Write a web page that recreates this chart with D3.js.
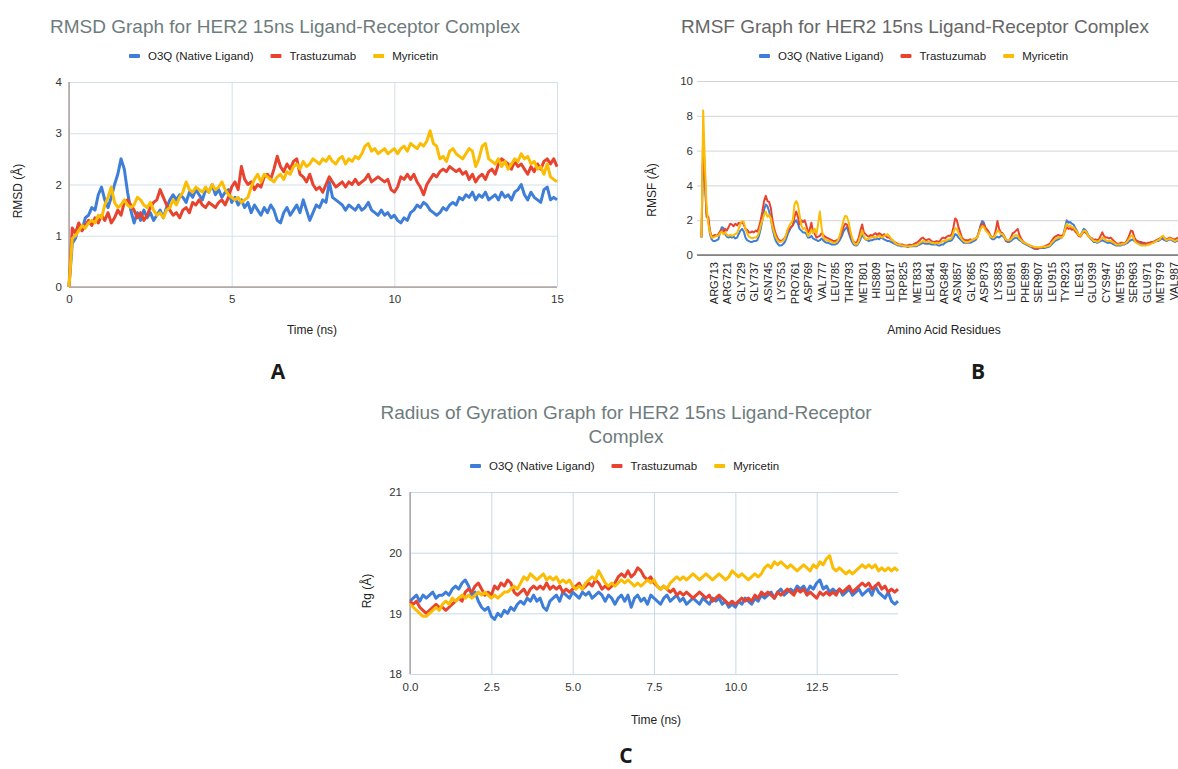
<!DOCTYPE html>
<html>
<head>
<meta charset="utf-8">
<script src="https://cdn.jsdelivr.net/npm/d3@7"></script>
<style>
  body { margin: 0; background: #fff; }
  svg { display: block; }
</style>
</head>
<body>
<script>
// ---- shared series info ----
const seriesNames = ["O3Q (Native Ligand)", "Trastuzumab", "Myricetin"];
const seriesColors = ["#3f7ed8", "#e8432f", "#fbbc04"];

// ---- A: RMSD, one value every 0.1 ns from 0 to 15 ns ----
const rmsdStep = 0.1;
const rmsdO3Q = [
  0, 0.85, 0.95, 1.2, 1.1, 1.35, 1.4, 1.55, 1.5, 1.8,
  1.95, 1.7, 1.55, 1.75, 2.0, 2.2, 2.5, 2.3, 1.85, 1.5,
  1.25, 1.45, 1.3, 1.5, 1.35, 1.45, 1.3, 1.4, 1.5, 1.35,
  1.55, 1.7, 1.8, 1.7, 1.8, 1.75, 1.65, 1.85, 1.75, 1.9,
  1.8, 1.7, 1.9, 1.85, 2.0, 1.8, 1.9, 1.75, 1.85, 1.9,
  1.65, 1.75, 1.6, 1.7, 1.55, 1.65, 1.45, 1.6, 1.5, 1.4,
  1.55, 1.45, 1.6, 1.5, 1.3, 1.25, 1.45, 1.55, 1.4, 1.5,
  1.6, 1.45, 1.7, 1.5, 1.3, 1.45, 1.6, 1.55, 1.7, 1.65,
  2.05, 1.75, 1.7, 1.65, 1.6, 1.5, 1.6, 1.55, 1.5, 1.6,
  1.5, 1.55, 1.65, 1.5, 1.45, 1.4, 1.5, 1.4, 1.45, 1.35,
  1.4, 1.3, 1.25, 1.35, 1.3, 1.45, 1.5, 1.6, 1.55, 1.65,
  1.6, 1.5, 1.45, 1.4, 1.45, 1.55, 1.5, 1.6, 1.65, 1.6,
  1.75, 1.7, 1.8, 1.75, 1.85, 1.7, 1.8, 1.75, 1.85, 1.7,
  1.75, 1.8, 1.7, 1.85, 1.75, 1.8, 1.7, 1.85, 1.9, 2.0,
  1.8, 1.7, 1.85, 1.75, 1.7, 1.65, 1.9, 1.95, 1.7, 1.75,
  1.7
];
const rmsdTrastuzumab = [
  0, 1.15, 1.05, 1.25, 1.1, 1.2, 1.3, 1.2, 1.35, 1.25,
  1.4, 1.3, 1.45, 1.25, 1.35, 1.5, 1.4, 1.65, 1.7, 1.6,
  1.5, 1.35, 1.45, 1.3, 1.4, 1.55, 1.65, 1.7, 1.9, 1.75,
  1.6, 1.5, 1.4, 1.45, 1.35, 1.5, 1.55, 1.45, 1.65, 1.6,
  1.7, 1.6, 1.55, 1.65, 1.6, 1.55, 1.65, 1.7, 1.6, 1.75,
  1.95, 2.05, 1.9, 2.35, 2.1, 2.0, 2.05, 1.9, 2.0, 1.95,
  2.15, 2.2, 2.1, 2.3, 2.55, 2.35, 2.25, 2.4, 2.3, 2.45,
  2.5, 2.2, 2.15, 2.05, 2.2, 2.0, 1.9, 1.95, 1.85, 2.0,
  2.15, 2.05, 1.95, 2.0, 2.05, 1.95, 2.05, 2.0, 2.1, 2.0,
  2.05, 2.1, 2.2, 2.05, 2.1, 2.15, 2.1, 2.05, 2.1, 1.9,
  1.85, 1.95, 2.15, 2.1, 2.2, 2.1, 2.2, 2.05, 1.95, 1.8,
  2.0, 2.1, 2.2, 2.15, 2.25, 2.3, 2.25, 2.35, 2.3, 2.25,
  2.3, 2.2, 2.25, 2.1, 2.2, 2.05, 2.15, 2.2, 2.1, 2.25,
  2.3, 2.2, 2.4, 2.5, 2.45, 2.4, 2.3, 2.45, 2.35, 2.4,
  2.3, 2.2, 2.35, 2.25, 2.4, 2.3, 2.45, 2.5, 2.4, 2.5,
  2.35
];
const rmsdMyricetin = [
  0, 0.95, 1.0, 1.1, 1.2, 1.15, 1.25, 1.3, 1.25, 1.4,
  1.35, 1.6, 1.75, 1.95, 1.65, 1.55, 1.6, 1.7, 1.6, 1.55,
  1.6, 1.75, 1.7, 1.6, 1.55, 1.65, 1.5, 1.4, 1.45, 1.35,
  1.5, 1.55, 1.7, 1.6, 1.75, 1.85, 2.05, 1.9, 1.85, 1.95,
  1.9, 1.85, 1.95, 1.85, 2.0, 1.9, 1.95, 2.05, 1.9, 1.8,
  1.75, 1.7, 1.75, 1.65, 1.7, 1.75, 1.95, 2.1, 2.2, 2.05,
  2.2, 2.15, 2.1, 2.05, 2.15, 2.2, 2.1, 2.25, 2.2, 2.35,
  2.4, 2.3, 2.45, 2.35, 2.4, 2.5, 2.45, 2.4, 2.5, 2.45,
  2.55, 2.45, 2.4, 2.5, 2.55, 2.4, 2.5, 2.45, 2.55, 2.5,
  2.6, 2.75, 2.8, 2.65, 2.7, 2.6, 2.65, 2.7, 2.6, 2.65,
  2.7, 2.6, 2.7, 2.75, 2.65, 2.8, 2.75, 2.7, 2.8, 2.75,
  2.85, 3.05, 2.8, 2.75, 2.5, 2.55, 2.45, 2.65, 2.7, 2.6,
  2.55, 2.5, 2.6, 2.7, 2.65, 2.35, 2.5, 2.75, 2.8, 2.5,
  2.45, 2.4, 2.5, 2.35, 2.45, 2.3, 2.4, 2.5, 2.45, 2.6,
  2.5, 2.55, 2.4, 2.45, 2.3, 2.35, 2.2, 2.4, 2.15, 2.1,
  2.05
];
const rmsdXTicks = [0, 5, 10, 15];
const rmsdYTicks = [0, 1, 2, 3, 4];

// ---- B: RMSF, one value per residue (index 0 = first residue) ----
const rmsfTickLabels = ["ARG713", "ARG721", "GLY729", "GLY737", "ASN745", "LYS753", "PRO761",
  "ASP769", "VAL777", "LEU785", "THR793", "MET801", "HIS809", "LEU817", "TRP825", "MET833",
  "LEU841", "ARG849", "ASN857", "GLY865", "ASP873", "LYS883", "LEU891", "PHE899", "SER907",
  "LEU915", "TYR923", "ILE931", "GLU939", "CYS947", "MET955", "SER963", "GLU971", "MET979", "VAL987"];
const rmsfTickFirst = 7;   // index of ARG713
const rmsfTickEvery = 8;   // one label every 8 residues
const rmsfYTicks = [0, 2, 4, 6, 8, 10];
const rmsfO3Q = [
  1.0, 6.0, 4.2, 2.4, 2.0, 1.2, 0.9, 0.8, 0.8, 0.85,
  0.9, 1.3, 1.6, 1.55, 1.2, 1.05, 1.0, 1.05, 1.0, 1.05,
  0.95, 1.0, 1.2, 1.4, 1.5, 1.35, 1.0, 0.85, 0.8, 0.75,
  0.75, 0.8, 0.8, 0.85, 1.1, 1.5, 2.0, 2.6, 2.9, 2.8,
  2.5, 2.1, 1.5, 1.1, 0.8, 0.65, 0.55, 0.55, 0.6, 0.7,
  0.9, 1.2, 1.4, 1.6, 1.7, 1.9, 2.0, 1.8, 1.5, 1.4,
  1.3, 1.3, 1.2, 1.0, 1.0, 1.1, 0.95, 0.9, 0.85, 0.8,
  0.85, 0.95, 0.85, 0.75, 0.7, 0.7, 0.65, 0.6, 0.6, 0.6,
  0.65, 0.75, 0.9, 1.1, 1.35, 1.5, 1.6, 1.3, 1.0, 0.75,
  0.6, 0.55, 0.55, 0.7, 0.9, 1.2, 1.0, 0.9, 0.85, 0.8,
  0.85, 0.85, 0.9, 0.9, 0.95, 0.9, 1.0, 0.95, 0.9, 0.85,
  0.8, 0.8, 0.75, 0.7, 0.65, 0.6, 0.55, 0.55, 0.5, 0.5,
  0.5, 0.5, 0.45, 0.5, 0.5, 0.5, 0.5, 0.5, 0.55, 0.6,
  0.65, 0.7, 0.65, 0.65, 0.65, 0.65, 0.6, 0.6, 0.6, 0.6,
  0.55, 0.55, 0.6, 0.6, 0.7, 0.75, 0.8, 0.8, 0.85, 1.0,
  1.2, 1.15, 1.0, 0.9, 0.8, 0.7, 0.7, 0.7, 0.7, 0.7,
  0.75, 0.8, 0.85, 1.0, 1.3, 1.7, 1.95, 1.85, 1.5, 1.4,
  1.25, 1.0, 0.9, 0.9, 1.0, 1.05, 1.0, 1.1, 1.1, 1.0,
  0.8, 0.75, 0.75, 0.8, 0.9, 0.95, 1.0, 0.95, 0.85, 0.8,
  0.7, 0.65, 0.6, 0.55, 0.5, 0.45, 0.4, 0.35, 0.35, 0.35,
  0.4, 0.4, 0.4, 0.4, 0.45, 0.45, 0.5, 0.6, 0.7, 0.8,
  0.85, 0.9, 0.95, 1.0, 1.2, 1.6, 2.0, 1.85, 1.9, 1.8,
  1.75, 1.55, 1.4, 1.15, 1.1, 1.3, 1.5, 1.45, 1.3, 1.1,
  0.95, 0.85, 0.75, 0.75, 0.7, 0.75, 0.8, 0.85, 0.8, 0.75,
  0.7, 0.7, 0.7, 0.65, 0.6, 0.55, 0.55, 0.55, 0.55, 0.6,
  0.6, 0.65, 0.7, 0.8, 0.85, 0.9, 0.8, 0.75, 0.7, 0.7,
  0.65, 0.65, 0.65, 0.6, 0.6, 0.65, 0.7, 0.7, 0.75, 0.8,
  0.8, 0.85, 0.95, 0.9, 0.85, 0.8, 0.85, 0.9, 0.85, 0.8,
  0.75, 0.8, 0.85, 0.8, 0.75, 0.8, 0.85, 0.8, 0.8
];
const rmsfTrastuzumab = [
  1.0, 7.0, 4.6, 2.2, 2.2, 1.4, 1.05, 1.1, 1.15, 1.1,
  1.2, 1.35, 1.45, 1.3, 1.5, 1.4, 1.6, 1.8, 1.75, 1.65,
  1.8, 1.7, 1.85, 1.8, 1.9, 1.75, 1.5, 1.45, 1.3, 1.3,
  1.35, 1.3, 1.4, 1.35, 1.6, 2.0, 2.5, 3.1, 3.4, 3.1,
  3.05, 2.7, 2.0, 1.5, 1.2, 0.95, 0.85, 0.8, 0.85, 0.95,
  1.1, 1.4, 1.5, 1.6, 1.7, 2.2, 2.5, 2.2, 1.75, 2.0,
  1.9, 2.0, 1.7, 1.3, 1.45, 1.85, 1.3, 1.2, 1.0, 1.05,
  1.1, 1.25, 1.15, 1.05, 1.0, 0.95, 0.9, 0.85, 0.8, 0.8,
  0.85, 0.9, 1.05, 1.3, 1.6, 1.8, 1.75, 1.5, 1.2, 0.9,
  0.75, 0.7, 0.75, 1.0, 1.4, 1.75, 1.3, 1.2, 1.1, 1.05,
  1.15, 1.1, 1.2, 1.25, 1.15, 1.25, 1.2, 1.1, 1.2, 1.1,
  1.0, 1.0, 0.9, 0.85, 0.75, 0.7, 0.65, 0.6, 0.6, 0.6,
  0.55, 0.55, 0.55, 0.6, 0.55, 0.6, 0.65, 0.7, 0.75, 0.85,
  0.95, 1.0, 0.9, 0.85, 0.9, 0.9, 0.8, 0.75, 0.75, 0.8,
  0.75, 0.8, 0.95, 1.0, 0.95, 1.05, 1.1, 1.1, 1.2, 1.6,
  2.1, 2.0, 1.6, 1.3, 1.0, 0.9, 0.85, 0.85, 0.85, 0.9,
  0.85, 0.9, 0.95, 1.0, 1.3, 1.6, 1.8, 1.75, 1.55, 1.45,
  1.3, 1.1, 1.0, 1.05, 1.4, 1.95, 1.5, 1.3, 1.25, 1.1,
  0.9, 0.8, 0.85, 1.0, 1.25, 1.3, 1.4, 1.5, 1.15, 0.95,
  0.8, 0.7, 0.65, 0.6, 0.55, 0.5, 0.45, 0.4, 0.35, 0.4,
  0.4, 0.45, 0.45, 0.5, 0.55, 0.6, 0.65, 0.8, 0.95, 1.05,
  1.1, 1.15, 1.1, 1.1, 1.15, 1.4, 1.6, 1.5, 1.55, 1.45,
  1.5, 1.35, 1.25, 1.1, 1.05, 1.2, 1.35, 1.3, 1.2, 1.05,
  1.0, 0.95, 0.85, 0.9, 0.85, 0.9, 1.1, 1.3, 1.1, 1.0,
  1.0, 0.95, 1.0, 0.9, 0.8, 0.7, 0.65, 0.65, 0.7, 0.7,
  0.65, 0.75, 0.9, 1.15, 1.4, 1.35, 1.0, 0.85, 0.8, 0.75,
  0.75, 0.7, 0.7, 0.65, 0.7, 0.7, 0.75, 0.75, 0.8, 0.85,
  0.9, 0.95, 1.0, 1.05, 0.95, 0.9, 0.95, 1.0, 0.95, 0.9,
  0.9, 0.95, 1.0, 0.95, 0.9, 1.0, 0.95, 0.9, 0.95
];
const rmsfMyricetin = [
  1.0, 8.3, 5.2, 2.8, 1.8, 1.3, 1.0, 1.0, 1.05, 1.1,
  1.1, 1.25, 1.35, 1.2, 1.3, 1.15, 1.1, 1.15, 1.1, 1.15,
  1.2, 1.25, 1.5, 1.8, 1.95, 1.9, 1.5, 1.25, 1.05, 1.0,
  0.95, 1.0, 1.0, 1.05, 1.3, 1.7, 2.0, 2.3, 2.5, 2.2,
  2.3, 2.1, 1.6, 1.3, 1.0, 0.85, 0.75, 0.75, 0.8, 0.9,
  1.15, 1.5, 1.7, 1.85, 2.0, 2.9, 3.1, 2.9, 2.3, 1.7,
  1.5, 1.55, 1.4, 1.1, 1.2, 1.45, 1.25, 1.5, 1.2, 1.8,
  2.5, 1.6, 1.0, 0.9, 0.85, 0.8, 0.8, 0.75, 0.7, 0.7,
  0.75, 0.9, 1.2, 1.6, 2.0, 2.25, 2.2, 1.9, 1.4, 1.0,
  0.7, 0.6, 0.6, 0.8, 1.1, 1.4, 1.1, 0.9, 0.9, 0.95,
  1.0, 1.0, 1.05, 1.0, 1.05, 1.1, 1.05, 1.0, 1.1, 1.15,
  1.2, 1.1, 0.95, 0.85, 0.75, 0.65, 0.6, 0.6, 0.55, 0.55,
  0.5, 0.5, 0.5, 0.5, 0.5, 0.55, 0.55, 0.55, 0.6, 0.7,
  0.75, 0.8, 0.75, 0.75, 0.75, 0.75, 0.7, 0.7, 0.65, 0.7,
  0.65, 0.7, 0.75, 0.8, 0.8, 0.85, 0.9, 0.9, 1.0, 1.3,
  1.55, 1.5, 1.25, 1.1, 0.9, 0.8, 0.75, 0.75, 0.75, 0.8,
  0.85, 0.9, 0.95, 1.0, 1.25, 1.5, 1.65, 1.6, 1.4, 1.3,
  1.2, 1.05, 1.0, 1.0, 1.2, 1.4, 1.35, 1.2, 1.2, 1.05,
  0.9, 0.85, 0.85, 0.9, 1.05, 1.1, 1.15, 1.1, 0.95, 0.85,
  0.75, 0.7, 0.65, 0.6, 0.55, 0.5, 0.5, 0.45, 0.45, 0.45,
  0.45, 0.45, 0.5, 0.45, 0.5, 0.5, 0.55, 0.7, 0.8, 0.9,
  0.95, 1.0, 1.0, 1.0, 1.1, 1.5, 1.8, 1.65, 1.7, 1.6,
  1.6, 1.45, 1.35, 1.15, 1.1, 1.25, 1.4, 1.4, 1.25, 1.05,
  1.0, 0.9, 0.8, 0.8, 0.75, 0.8, 0.9, 1.0, 0.95, 0.85,
  0.8, 0.8, 0.8, 0.75, 0.7, 0.6, 0.6, 0.6, 0.6, 0.65,
  0.65, 0.7, 0.8, 0.95, 1.1, 1.1, 0.85, 0.7, 0.65, 0.6,
  0.55, 0.55, 0.55, 0.55, 0.6, 0.6, 0.65, 0.7, 0.75, 0.8,
  0.85, 0.9, 1.05, 1.1, 0.95, 0.85, 0.9, 0.95, 0.9, 0.85,
  0.8, 0.85, 0.9, 0.85, 0.8, 0.85, 0.9, 0.85, 0.85
];

// ---- C: radius of gyration, one value every 0.1 ns from 0 to 15 ns ----
const rgStep = 0.1;
const rgO3Q = [
  19.2, 19.25, 19.3, 19.2, 19.3, 19.25, 19.3, 19.35, 19.25, 19.3,
  19.3, 19.35, 19.3, 19.4, 19.45, 19.4, 19.5, 19.55, 19.45, 19.3,
  19.35, 19.2, 19.1, 19.05, 19.1, 18.95, 18.9, 19.0, 18.95, 19.05,
  19.0, 19.1, 19.05, 19.15, 19.2, 19.15, 19.25, 19.2, 19.3, 19.2,
  19.25, 19.1, 19.05, 19.2, 19.25, 19.3, 19.2, 19.35, 19.3, 19.25,
  19.35, 19.3, 19.25, 19.35, 19.3, 19.35, 19.25, 19.3, 19.35, 19.3,
  19.2, 19.3, 19.25, 19.15, 19.25, 19.3, 19.2, 19.3, 19.1, 19.25,
  19.3, 19.2, 19.25, 19.15, 19.3, 19.25, 19.2, 19.15, 19.25, 19.3,
  19.2, 19.25, 19.3, 19.2, 19.25, 19.15, 19.2, 19.25, 19.2, 19.15,
  19.25, 19.2, 19.15, 19.25, 19.2, 19.25, 19.15, 19.2, 19.1, 19.15,
  19.1, 19.2, 19.15, 19.25, 19.2, 19.15, 19.25, 19.2, 19.3, 19.25,
  19.3, 19.35, 19.25, 19.35, 19.4, 19.3, 19.35, 19.4, 19.35, 19.45,
  19.4, 19.45, 19.35, 19.45, 19.4, 19.5, 19.55, 19.4, 19.45, 19.35,
  19.4, 19.35, 19.4, 19.3, 19.35, 19.4, 19.3, 19.35, 19.4, 19.3,
  19.35, 19.4, 19.3, 19.45, 19.35, 19.3, 19.25, 19.35, 19.2, 19.15,
  19.2
];
const rgTrastuzumab = [
  19.2, 19.15, 19.2, 19.1, 19.05, 19.0, 19.05, 19.1, 19.15, 19.1,
  19.1, 19.05, 19.1, 19.15, 19.2, 19.25, 19.2, 19.35, 19.4, 19.35,
  19.45, 19.5, 19.4, 19.3, 19.35, 19.3, 19.45, 19.4, 19.5, 19.45,
  19.55, 19.5, 19.35, 19.3, 19.35, 19.4, 19.3, 19.4, 19.45, 19.4,
  19.45, 19.4, 19.5, 19.4, 19.45, 19.4, 19.45, 19.35, 19.4, 19.35,
  19.4, 19.45, 19.5, 19.4, 19.45, 19.5, 19.45, 19.55, 19.5, 19.4,
  19.45, 19.4, 19.45, 19.5, 19.6, 19.65, 19.6, 19.7, 19.6, 19.65,
  19.75, 19.7, 19.6, 19.55, 19.6, 19.5, 19.45, 19.4, 19.45, 19.4,
  19.35, 19.4, 19.3, 19.35, 19.3, 19.35, 19.3, 19.25, 19.3, 19.35,
  19.3, 19.25, 19.3, 19.2, 19.25, 19.3, 19.25, 19.2, 19.15, 19.2,
  19.15, 19.2, 19.25, 19.2, 19.25, 19.2, 19.3, 19.25, 19.35, 19.3,
  19.35, 19.3, 19.25, 19.35, 19.3, 19.35, 19.4, 19.35, 19.3, 19.4,
  19.35, 19.4, 19.3, 19.35, 19.3, 19.25, 19.35, 19.3, 19.35, 19.3,
  19.35, 19.3, 19.4, 19.35, 19.4, 19.45, 19.35, 19.4, 19.45, 19.5,
  19.45, 19.5, 19.4, 19.45, 19.5, 19.4, 19.45, 19.35, 19.4, 19.35,
  19.4
];
const rgMyricetin = [
  19.15, 19.1, 19.05, 19.0, 18.95, 18.95, 19.0, 19.05, 19.1, 19.05,
  19.15, 19.2, 19.15, 19.25, 19.2, 19.25, 19.3, 19.25, 19.3, 19.25,
  19.3, 19.35, 19.3, 19.35, 19.3, 19.25, 19.3, 19.25, 19.3, 19.35,
  19.35, 19.4, 19.45, 19.4, 19.5, 19.6, 19.55, 19.65, 19.6, 19.55,
  19.6, 19.65, 19.55, 19.6, 19.55, 19.6, 19.5, 19.55, 19.5, 19.55,
  19.45, 19.4, 19.45, 19.4, 19.5, 19.55, 19.6, 19.55, 19.7, 19.6,
  19.5, 19.45, 19.5, 19.45, 19.5, 19.55, 19.5, 19.55, 19.5, 19.45,
  19.5, 19.45, 19.5, 19.55, 19.5, 19.55, 19.45, 19.4, 19.45, 19.4,
  19.5, 19.55, 19.6, 19.55, 19.6, 19.55, 19.6, 19.65, 19.6, 19.55,
  19.6, 19.65, 19.6, 19.55, 19.6, 19.65, 19.6, 19.55, 19.6, 19.7,
  19.65, 19.6, 19.65, 19.6, 19.55, 19.6, 19.65, 19.6, 19.65, 19.75,
  19.8, 19.75, 19.85, 19.8, 19.85, 19.8, 19.75, 19.8, 19.75, 19.7,
  19.75, 19.8, 19.75, 19.7, 19.8, 19.75, 19.85, 19.8, 19.9, 19.95,
  19.75, 19.7, 19.75, 19.7, 19.65, 19.7, 19.65, 19.7, 19.75, 19.8,
  19.75, 19.8, 19.75, 19.8, 19.7, 19.75, 19.7, 19.75, 19.7, 19.75,
  19.7
];
const rgXTicks = [0, 2.5, 5, 7.5, 10, 12.5];
const rgYTicks = [18, 19, 20, 21];

// ---------------------------------------------------------------
const FONT = '"Liberation Sans", Arial, Helvetica, sans-serif';

const svg = d3.select("body").append("svg")
    .attr("width", 1178)
    .attr("height", 769)
    .attr("viewBox", [0, 0, 1178, 769])
    .style("font-family", FONT);

svg.append("rect").attr("width", 1178).attr("height", 769).attr("fill", "#fff");

function label(x, y, str, size, color, opts = {}) {
  const t = svg.append("text")
      .attr("x", x)
      .attr("y", y)
      .attr("dy", "0.35em")
      .attr("text-anchor", opts.anchor || "middle")
      .attr("font-size", size)
      .attr("fill", color)
      .text(str);
  if (opts.weight) t.attr("font-weight", opts.weight);
  if (opts.family) t.attr("font-family", opts.family);
  if (opts.rotate) t.attr("transform", `rotate(-90,${x},${y})`);
  return t;
}

function legend(x0, cy) {
  let x = x0;
  seriesNames.forEach((name, i) => {
    svg.append("rect")
        .attr("x", x).attr("y", cy - 2)
        .attr("width", 11).attr("height", 4)
        .attr("rx", 1)
        .attr("fill", seriesColors[i]);
    const t = label(x + 19, cy, name, 11.5, "#222", { anchor: "start" });
    x += 19 + t.node().getComputedTextLength() + 17;
  });
}

// time-series chart used for panels A and C
function timeChart(c) {
  const x = d3.scaleLinear([0, 15], [c.left, c.right]);
  const y = d3.scaleLinear(c.yDomain, [c.bottom, c.top]);

  // horizontal grid + y labels
  svg.append("g")
      .attr("transform", `translate(${c.left},0)`)
      .call(d3.axisLeft(y).tickValues(c.yTicks).tickFormat(d3.format("d"))
          .tickSize(-(c.right - c.left)).tickPadding(c.yPad))
      .call(g => g.attr("font-family", null).attr("font-size", null))
      .call(g => g.select(".domain").remove())
      .call(g => g.selectAll(".tick line").attr("stroke", c.grid))
      .call(g => g.selectAll(".tick text").attr("font-size", 11.5).attr("fill", "#333"));

  // vertical grid + x labels
  svg.append("g")
      .attr("transform", `translate(0,${c.bottom})`)
      .call(d3.axisBottom(x).tickValues(c.xTicks).tickFormat(c.xFormat)
          .tickSize(-(c.bottom - c.top)).tickPadding(c.xPad))
      .call(g => g.attr("font-family", null).attr("font-size", null))
      .call(g => g.select(".domain").remove())
      .call(g => g.selectAll(".tick line").attr("stroke", c.grid))
      .call(g => g.selectAll(".tick text").attr("font-size", 11.5).attr("fill", "#333"));

  // baselines
  svg.append("line")
      .attr("x1", x(0)).attr("x2", x(0))
      .attr("y1", c.top).attr("y2", c.bottom)
      .attr("stroke", c.axisColor);
  if (c.yDomain[0] === 0) {
    svg.append("line")
        .attr("x1", c.left).attr("x2", c.right)
        .attr("y1", y(0)).attr("y2", y(0))
        .attr("stroke", c.axisColor);
  }

  const line = d3.line()
      .x((d, i) => x(i * c.step))
      .y(d => y(d));

  c.series.forEach((vals, k) => {
    svg.append("path")
        .datum(vals)
        .attr("fill", "none")
        .attr("stroke", seriesColors[k])
        .attr("stroke-width", 3)
        .attr("stroke-linejoin", "round")
        .attr("d", line);
  });
}

// ---- Panel A ----
label(285, 26, "RMSD Graph for HER2 15ns Ligand-Receptor Complex", 19, "#6e7c7d");
legend(129, 56);
timeChart({
  left: 69, right: 557, top: 82, bottom: 287,
  yDomain: [0, 4], yTicks: rmsdYTicks, xTicks: rmsdXTicks,
  xFormat: d3.format("d"), yPad: 7, xPad: 8,
  grid: "#d3e1ea", axisColor: "#8e7770",
  step: rmsdStep,
  series: [rmsdO3Q, rmsdTrastuzumab, rmsdMyricetin]
});
label(18, 191, "RMSD (Å)", 12, "#222", { rotate: true });
label(312, 330, "Time (ns)", 12, "#222");

// ---- Panel C ----
label(626, 412, "Radius of Gyration Graph for HER2 15ns Ligand-Receptor", 19, "#6e7c7d");
label(626, 436, "Complex", 19, "#6e7c7d");
legend(470, 466);
timeChart({
  left: 410, right: 898, top: 492, bottom: 674,
  yDomain: [18, 21], yTicks: rgYTicks, xTicks: rgXTicks,
  xFormat: d3.format(".1f"), yPad: 8, xPad: 9,
  grid: "#c6d9e7", axisColor: "#8e8482",
  step: rgStep,
  series: [rgO3Q, rgTrastuzumab, rgMyricetin]
});
label(367, 591, "Rg (Å)", 12, "#222", { rotate: true });
label(656, 720, "Time (ns)", 12, "#222");

// ---- Panel B ----
label(915, 26, "RMSF Graph for HER2 15ns Ligand-Receptor Complex", 19, "#666");
legend(759, 56);
{
  const left = 697, right = 1200, top = 81, bottom = 255;
  const n = rmsfO3Q.length;
  const x = d3.scaleLinear([0, n - 1], [701.5, 701.5 + 1.691 * (n - 1)]);
  const y = d3.scaleLinear([0, 10], [bottom, top]);

  svg.append("g")
      .attr("transform", `translate(${left},0)`)
      .call(d3.axisLeft(y).tickValues(rmsfYTicks).tickFormat(d3.format("d"))
          .tickSize(-(right - left)).tickPadding(4))
      .call(g => g.attr("font-family", null).attr("font-size", null))
      .call(g => g.select(".domain").remove())
      .call(g => g.selectAll(".tick line").attr("stroke", "#d4d4d4"))
      .call(g => g.selectAll(".tick text").attr("font-size", 11.5).attr("fill", "#333"));

  const tickIdx = rmsfTickLabels.map((_, k) => rmsfTickFirst + k * rmsfTickEvery);
  svg.append("g")
      .attr("transform", `translate(0,${bottom})`)
      .call(d3.axisBottom(x).tickValues(tickIdx).tickFormat((d, k) => rmsfTickLabels[k]).tickSize(0))
      .call(g => g.attr("font-family", null).attr("font-size", null))
      .call(g => g.select(".domain").remove())
      .call(g => g.selectAll(".tick text")
          .attr("transform", "rotate(-90)")
          .attr("text-anchor", "end")
          .attr("x", -7).attr("y", 0).attr("dy", "0.35em")
          .attr("font-size", 11).attr("fill", "#222"));

  svg.append("line")
      .attr("x1", left).attr("x2", right)
      .attr("y1", y(0)).attr("y2", y(0))
      .attr("stroke", "#333");

  const line = d3.line().x((d, i) => x(i)).y(d => y(d));
  [rmsfO3Q, rmsfTrastuzumab, rmsfMyricetin].forEach((vals, k) => {
    svg.append("path")
        .datum(vals)
        .attr("fill", "none")
        .attr("stroke", seriesColors[k])
        .attr("stroke-width", 2)
        .attr("stroke-linejoin", "round")
        .attr("d", line);
  });

  label(652, 190, "RMSF (Å)", 12, "#222", { rotate: true });
  label(944, 330, "Amino Acid Residues", 12, "#222");
}

// ---- panel letters ----
label(278, 372, "A", 21, "#1a1a1a", { weight: "bold", family: '"Open Sans", sans-serif' });
label(978, 372, "B", 21, "#1a1a1a", { weight: "bold", family: '"Open Sans", sans-serif' });
label(626, 756, "C", 21, "#1a1a1a", { weight: "bold", family: '"Open Sans", sans-serif' });
</script>
</body>
</html>
